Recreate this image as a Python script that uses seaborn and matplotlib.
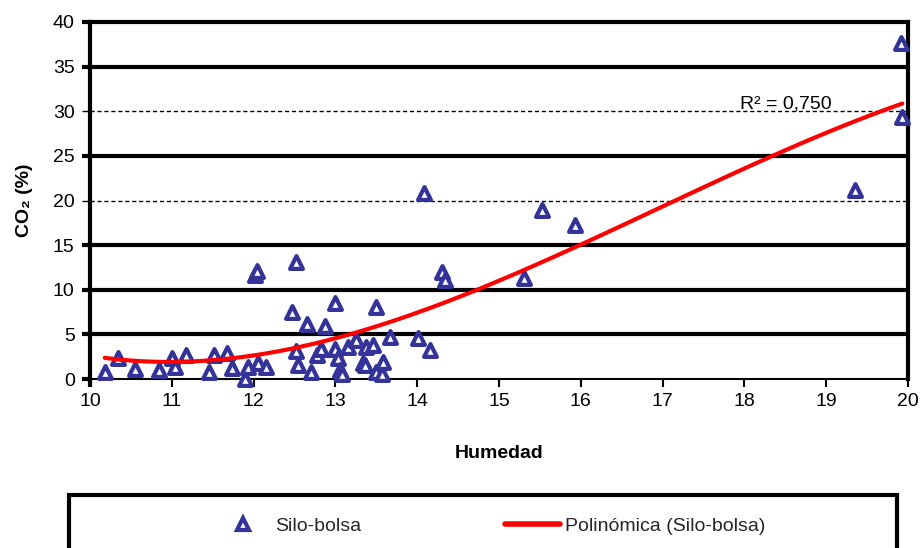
import numpy as np
import pandas as pd
import matplotlib
matplotlib.use("Agg")
import matplotlib.pyplot as plt
import seaborn as sns
from matplotlib.patches import Rectangle
from matplotlib.lines import Line2D

# Moisture (%) and CO2 (%) measured in silo-bags
humedad = [
    10.18, 10.34, 10.55, 10.84, 11.00, 11.04, 11.17, 11.45, 11.51, 11.67,
    11.73, 11.89, 11.93, 12.05, 12.15, 12.02, 12.04, 12.52, 12.47, 12.52,
    12.54, 12.65, 12.70, 12.77, 12.83, 12.87, 13.00, 12.99, 13.03, 13.06,
    13.08, 13.15, 13.25, 13.34, 13.38, 13.46, 13.36, 13.50, 13.57, 13.50,
    13.58, 13.67, 14.01, 14.16, 14.08, 14.30, 14.34, 15.30, 15.52, 15.93,
    19.35, 19.92, 19.93,
]
co2 = [
    0.8, 2.3, 1.1, 1.0, 2.3, 1.4, 2.7, 0.8, 2.7, 2.9,
    1.2, 0.0, 1.4, 1.8, 1.4, 11.6, 12.1, 13.1, 7.5, 3.1,
    1.6, 6.2, 0.8, 2.7, 3.4, 5.9, 8.5, 3.4, 2.4, 1.0,
    0.6, 3.6, 4.4, 1.8, 3.6, 3.8, 1.6, 0.8, 0.6, 8.1,
    1.9, 4.7, 4.6, 3.2, 20.8, 12.0, 11.1, 11.3, 18.9, 17.2,
    21.2, 37.6, 29.4,
]

x_ticks = list(range(10, 21))
y_ticks = list(range(0, 45, 5))
solid_grid = [5, 10, 15, 25, 35]
dashed_grid = [20, 30]
r2_label = "R² = 0,750"
series_name = "Silo-bolsa"
trend_name = "Polinómica (Silo-bolsa)"

marker_color = "#333399"
trend_color = "#FF0000"

sns.set_theme(style="white")
plt.rcParams["font.family"] = ["Liberation Sans", "DejaVu Sans"]

df = pd.DataFrame({"Humedad": humedad, "CO2": co2})

W, H = 922, 548
fig = plt.figure(figsize=(W / 100, H / 100), dpi=100)
ax = fig.add_axes([90 / W, 1 - 379 / H, (908 - 90) / W, (379 - 22) / H])

# horizontal reference lines
for g in solid_grid:
    ax.axhline(g, color="black", lw=3, zorder=1)
for g in dashed_grid:
    ax.axhline(g, color="black", lw=1, ls=(0, (3, 2)), zorder=1)

sns.scatterplot(
    data=df, x="Humedad", y="CO2", marker="^", s=85,
    facecolor="white", edgecolor=marker_color, linewidth=3,
    ax=ax, zorder=3, clip_on=False, legend=False,
)
sns.regplot(
    data=df, x="Humedad", y="CO2", order=3, ci=None, scatter=False,
    line_kws=dict(color=trend_color, lw=3, zorder=4), ax=ax,
)

ax.set_xlim(10, 20)
ax.set_ylim(0, 40)
ax.set_xticks(x_ticks)
ax.set_yticks(y_ticks)

for side in ["left", "top", "right"]:
    ax.spines[side].set_linewidth(3)
    ax.spines[side].set_color("black")
ax.spines["bottom"].set_linewidth(1.5)
ax.spines["bottom"].set_color("black")

ax.tick_params(axis="y", left=True, direction="out", length=6, width=3,
               color="black", labelsize=14, labelcolor="black", pad=5)
ax.tick_params(axis="x", bottom=True, direction="out", length=6, width=1.5,
               color="black", labelsize=14, labelcolor="black", pad=4)
for tk, val in zip(ax.yaxis.get_major_ticks(), y_ticks):
    if val in dashed_grid:
        tk.tick1line.set_markeredgewidth(1)
ax.xaxis.get_major_ticks()[0].tick1line.set_markeredgewidth(3)

ax.set_xlabel("Humedad", fontsize=14, fontweight="bold", labelpad=25, color="black")
ax.set_ylabel("CO₂ (%)", fontsize=14, fontweight="bold", labelpad=14, color="black")

ax.text(17.95, 30.3, r2_label, fontsize=14, color="black", zorder=5)

# legend below the plot, inside a heavy frame
handles = [
    Line2D([], [], marker="^", ls="none", markersize=9,
           markerfacecolor="white", markeredgecolor=marker_color, markeredgewidth=3),
    Line2D([], [], color=trend_color, lw=4),
]
fig.legend(
    handles, [series_name, trend_name], ncol=2, frameon=False,
    loc="center left", bbox_to_anchor=(216 / W, 1 - 526 / H),
    fontsize=14, handlelength=2.8, handletextpad=0.25, columnspacing=7.4,
    borderpad=0, borderaxespad=0,
)
fig.add_artist(Rectangle((69 / W, 1 - 580 / H), (897 - 69) / W, (580 - 495) / H,
                         transform=fig.transFigure, fill=False, edgecolor="black",
                         lw=3, clip_on=False))

fig.savefig("out.png", dpi=100)
